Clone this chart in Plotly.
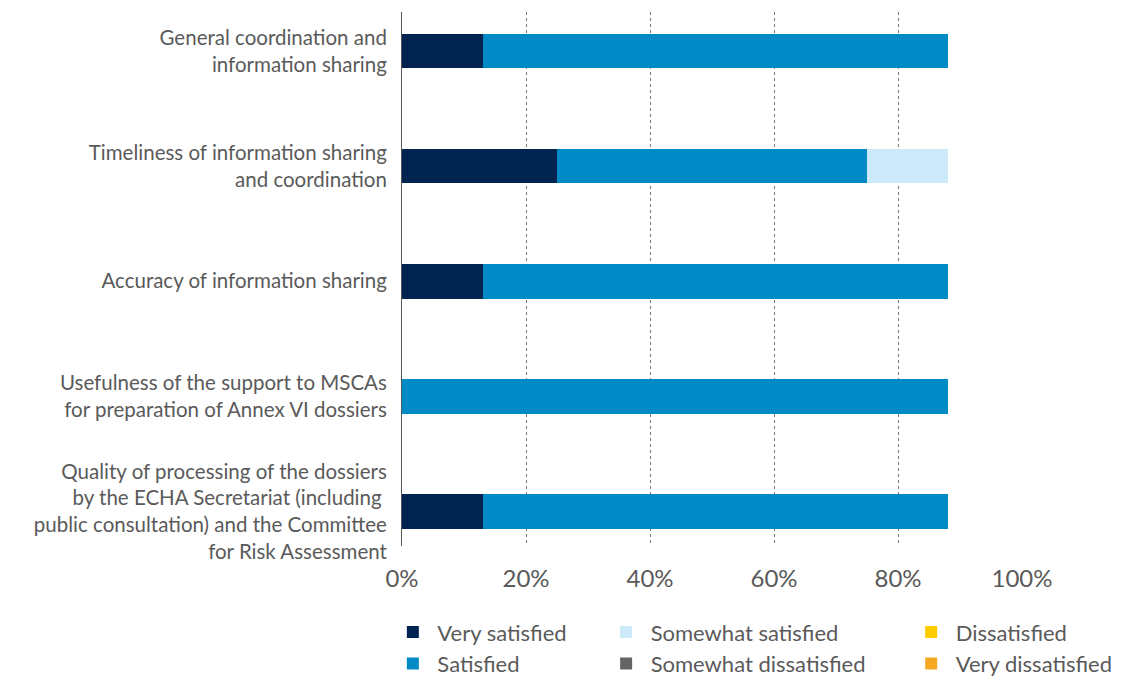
import plotly.graph_objects as go

categories = [
    "General coordination and<br>information sharing",
    "Timeliness of information sharing<br>and coordination",
    "Accuracy of information sharing",
    "Usefulness of the support to MSCAs<br>for preparation of Annex VI dossiers",
    "Quality of processing of the dossiers<br>by the ECHA Secretariat (including <br>public consultation) and the Committee<br>for Risk Assessment",
]
series_names = ["Very satisfied", "Satisfied", "Somewhat satisfied",
                "Somewhat dissatisfied", "Dissatisfied", "Very dissatisfied"]
very_satisfied = [13, 25, 13, 0, 13]
satisfied = [75, 50, 75, 88, 75]
somewhat_satisfied = [0, 13, 0, 0, 0]
somewhat_dissatisfied = [0, 0, 0, 0, 0]
dissatisfied = [0, 0, 0, 0, 0]
very_dissatisfied = [0, 0, 0, 0, 0]
x_ticks = [0, 20, 40, 60, 80, 100]
x_tick_labels = ["0%", "20%", "40%", "60%", "80%", "100%"]

colors = ["#00234F", "#008BC6", "#CCEAF9", "#646464", "#FFCC00", "#F7A823"]
values = [very_satisfied, satisfied, somewhat_satisfied,
          somewhat_dissatisfied, dissatisfied, very_dissatisfied]
legend_ids = ["legend", "legend", "legend2", "legend2", "legend3", "legend3"]

FONT = "Lato"
GREY = "#5a5a5a"

fig = go.Figure()
for name, vals, col, lg in zip(series_names, values, colors, legend_ids):
    fig.add_trace(go.Bar(
        y=categories, x=vals, name=name, orientation="h",
        marker=dict(color=col, line=dict(width=0)),
        legend=lg, hoverinfo="x+name",
    ))

legend_common = dict(
    orientation="v", yanchor="top", y=-0.122, xanchor="left",
    font=dict(family=FONT, size=22, color=GREY),
    bgcolor="rgba(0,0,0,0)", itemwidth=39, tracegroupgap=0,
    traceorder="normal",
)

# the page body has an 8px margin, so the figure is drawn 8px smaller
fig.update_layout(
    width=1120, height=671,
    margin=dict(l=394, r=106, t=4, b=133, pad=0, autoexpand=False),
    barmode="stack", bargap=0.7,
    plot_bgcolor="white", paper_bgcolor="white",
    font=dict(family=FONT, color=GREY),
    legend=dict(x=-0.022, **legend_common),
    legend2=dict(x=0.322, **legend_common),
    legend3=dict(x=0.814, **legend_common),
    xaxis=dict(
        range=[0, 100], tickvals=x_ticks, ticktext=x_tick_labels,
        showgrid=True, gridcolor="#777777", griddash="dot", gridwidth=1,
        zeroline=False, showline=False, ticks="",
        ticklabelstandoff=16,
        tickfont=dict(family=FONT, size=24, color=GREY),
        fixedrange=True,
    ),
    yaxis=dict(
        categoryorder="array", categoryarray=categories,
        range=[4.3, -0.34], showgrid=False, zeroline=False,
        showline=True, linecolor="#555555", linewidth=1, ticks="",
        ticklabelstandoff=10,
        tickfont=dict(family=FONT, size=20.5, color=GREY),
    ),
)

fig.write_html("out.html")
